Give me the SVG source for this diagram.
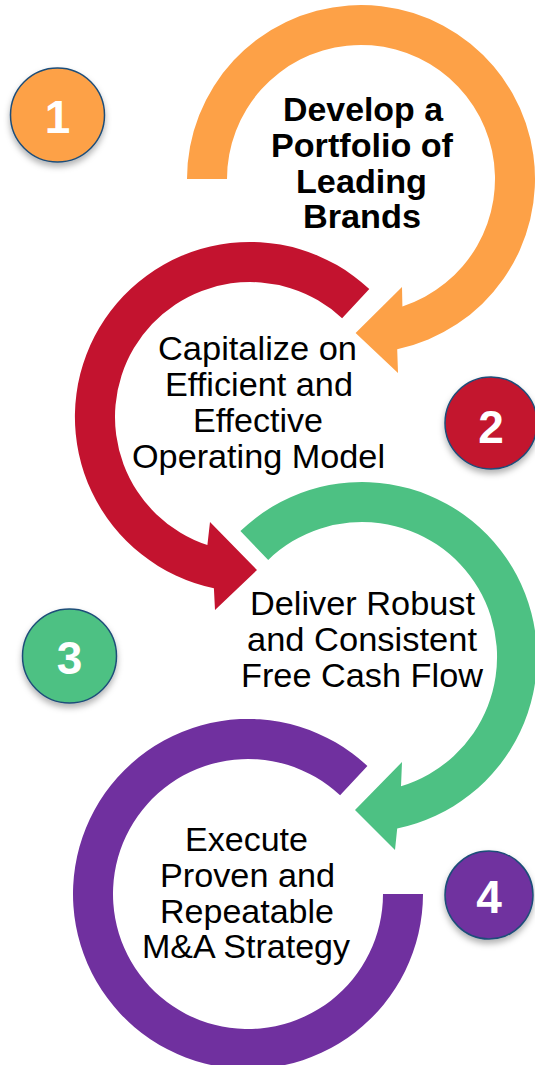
<svg xmlns="http://www.w3.org/2000/svg" width="535" height="1065" viewBox="0 0 535 1065">
<style>
.lbl{font-family:"Liberation Sans",Arial,sans-serif;font-size:34px;fill:#000;text-anchor:middle}
.b{font-weight:bold;font-size:33px}
.num{font-family:"Liberation Sans",Arial,sans-serif;font-size:46px;font-weight:bold;fill:#fff;text-anchor:middle}
.badge{stroke:#1F4E79;stroke-width:1.5}
</style>
<defs>
<filter id="sh" x="-30%" y="-30%" width="160%" height="170%">
<feDropShadow dx="0" dy="4" stdDeviation="3" flood-color="#000" flood-opacity="0.3"/>
</filter>
</defs>
<g id="connectors">
<path id="arc1" fill="#FDA147" d="M187,179 A174,174 0 1 1 397.2,349.2 L398,373 L355.6,333 L402,287 L402.4,306.4 A134,134 0 1 0 227,179 Z"/>
<path id="arc2" fill="#C3132F" d="M369.3,289 A175,175 0 1 0 213.9,588.2 L215,610 L257,570 L210,522 L207.4,545.1 A135,135 0 1 1 342.1,318.3 Z"/>
<path id="arc3" fill="#4DC183" d="M240.4,531.1 A175,175 0 1 1 397.2,828.4 L395,850 L355,810 L402,762 L401,786.2 A135,135 0 1 0 268.2,559.9 Z"/>
<path id="arc4" fill="#70309F" d="M367.4,766 A175,175 0 1 0 423,894 L383,894 A135,135 0 1 1 340.1,795.3 Z"/>
</g>
<g id="step1">
<text class="lbl b" x="363" y="120.5" textLength="160" lengthAdjust="spacingAndGlyphs">Develop a</text>
<text class="lbl b" x="362" y="156.7" textLength="182" lengthAdjust="spacingAndGlyphs">Portfolio of</text>
<text class="lbl b" x="361.5" y="192.7" textLength="131" lengthAdjust="spacingAndGlyphs">Leading</text>
<text class="lbl b" x="362" y="228.3" textLength="118" lengthAdjust="spacingAndGlyphs">Brands</text>
</g>
<g id="step2">
<text class="lbl" x="257.5" y="360" textLength="199" lengthAdjust="spacingAndGlyphs">Capitalize on</text>
<text class="lbl" x="259" y="396" textLength="188" lengthAdjust="spacingAndGlyphs">Efficient and</text>
<text class="lbl" x="258" y="432" textLength="130" lengthAdjust="spacingAndGlyphs">Effective</text>
<text class="lbl" x="258.5" y="468" textLength="253" lengthAdjust="spacingAndGlyphs">Operating Model</text>
</g>
<g id="step3">
<text class="lbl" x="362.5" y="615" textLength="225" lengthAdjust="spacingAndGlyphs">Deliver Robust</text>
<text class="lbl" x="362" y="651" textLength="230" lengthAdjust="spacingAndGlyphs">and Consistent</text>
<text class="lbl" x="362" y="687" textLength="242" lengthAdjust="spacingAndGlyphs">Free Cash Flow</text>
</g>
<g id="step4">
<text class="lbl" x="246.5" y="851" textLength="123" lengthAdjust="spacingAndGlyphs">Execute</text>
<text class="lbl" x="247.5" y="887" textLength="175" lengthAdjust="spacingAndGlyphs">Proven and</text>
<text class="lbl" x="247" y="923" textLength="174" lengthAdjust="spacingAndGlyphs">Repeatable</text>
<text class="lbl" x="246" y="958" textLength="208" lengthAdjust="spacingAndGlyphs">M&amp;A Strategy</text>
</g>
<g id="badge1">
<circle class="badge" cx="57.5" cy="115" r="47" fill="#FDA147" filter="url(#sh)"/>
<text class="num" x="57.5" y="132.5">1</text>
</g>
<g id="badge2">
<circle class="badge" cx="491" cy="423" r="46" fill="#C3132F" filter="url(#sh)"/>
<text class="num" x="491" y="442.5">2</text>
</g>
<g id="badge3">
<circle class="badge" cx="69.5" cy="656" r="47" fill="#4DC183" filter="url(#sh)"/>
<text class="num" x="69.5" y="673.5">3</text>
</g>
<g id="badge4">
<circle class="badge" cx="489" cy="895" r="44" fill="#70309F" filter="url(#sh)"/>
<text class="num" x="489" y="912.5">4</text>
</g>
</svg>
